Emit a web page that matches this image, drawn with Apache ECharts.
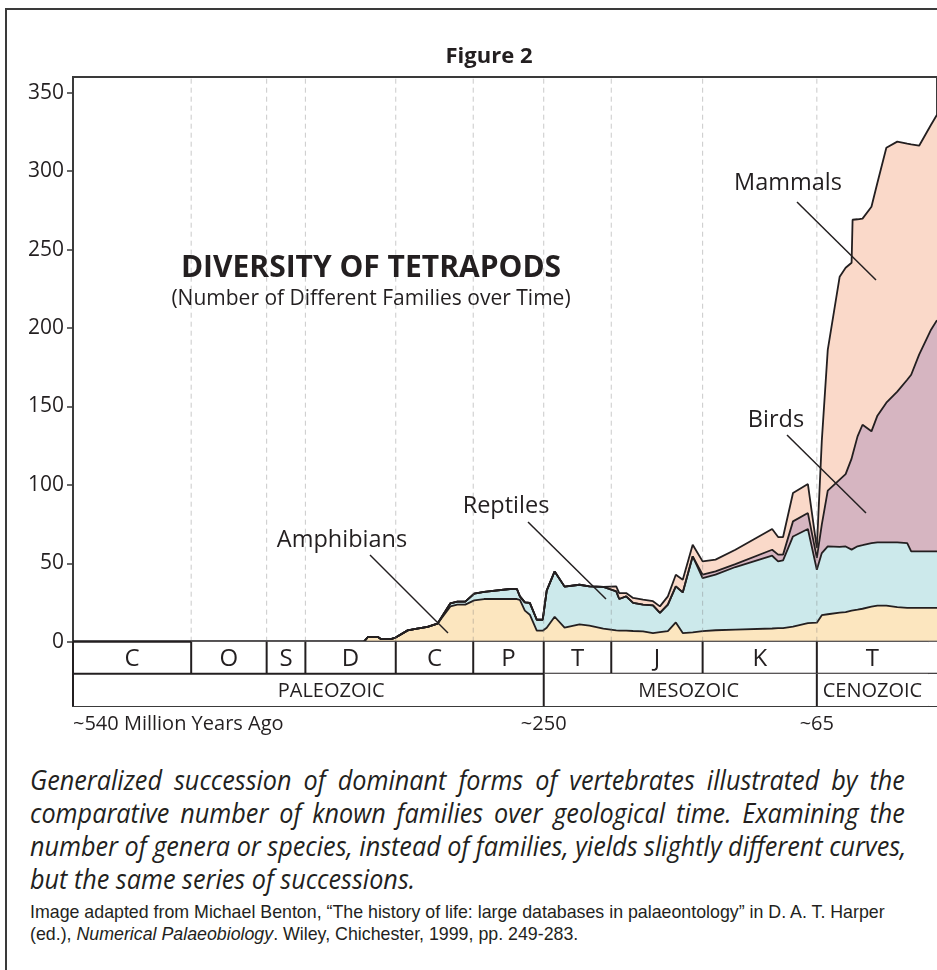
<!DOCTYPE html>
<html>
<head>
<meta charset="utf-8">
<script src="https://cdn.jsdelivr.net/npm/echarts@6.0.0/dist/echarts.min.js"></script>
<style>
  html, body { margin: 0; padding: 0; background: #fff; }
  #page { position: relative; width: 937px; height: 970px; overflow: hidden; }
  #frame { position: absolute; left: 5px; top: 8px; width: 1000px; height: 1000px;
           border-left: 2px solid #3a3a3a; border-top: 2px solid #3a3a3a; pointer-events: none; }
  #chart { position: absolute; left: 0; top: 0; width: 937px; height: 745px; }
  #caption { position: absolute; left: 30px; top: 763px; width: 972px;
             transform: scaleX(0.9); transform-origin: 0 0;
             font-family: "Open Sans", sans-serif; font-style: italic;
             font-size: 28px; line-height: 33px; color: #231f20; }
  #caption div { text-align: justify; text-align-last: justify; white-space: nowrap; }
  #caption div.last { text-align-last: left; }
  #credit { position: absolute; left: 30px; top: 901px; white-space: nowrap;
            font-family: "Liberation Sans", Arial, sans-serif; font-size: 17.8px; line-height: 22px; color: #231f20; }
</style>
</head>
<body>
<div id="page">
  <div id="chart"></div>
  <div id="caption">
    <div>Generalized succession of dominant forms of vertebrates illustrated by the</div>
    <div>comparative number of known families over geological time. Examining the</div>
    <div>number of genera or species, instead of families, yields slightly different curves,</div>
    <div class="last">but the same series of successions.</div>
  </div>
  <div id="credit">Image adapted from Michael Benton, “The history of life: large databases in palaeontology” in D. A. T. Harper<br>(ed.), <i>Numerical Palaeobiology</i>. Wiley, Chichester, 1999, pp. 249-283.</div>
  <div id="frame"></div>
</div>
<script>
  // position along the (non-uniform) geological time strip, 0 = ~540 Ma
  var positions = [0, 29.3, 29.7, 30.7, 31.0, 32.0, 32.4, 33.7, 34.5, 35.7,
    36.7, 38.0, 38.7, 39.5, 40.4, 41.4, 44.0, 44.7, 45.0, 45.5,
    46.0, 46.7, 47.3, 47.7, 48.5, 49.5, 51.0, 52.0, 53.4, 54.7,
    55.0, 55.7, 56.4, 57.4, 58.4, 59.1, 59.9, 60.7, 61.4, 62.4,
    63.4, 64.7, 66.7, 70.4, 71.0, 71.5, 72.5, 74.0, 74.9, 75.4,
    76.0, 77.2, 77.8, 78.4, 78.5, 79.0, 79.5, 80.4, 81.0, 81.9,
    83.0, 84.0, 84.4, 85.2, 86.4, 87.0];

  // number of families per group (layered bottom to top)
  var amphibians = [0, 0, 3.0, 3.0, 1.7, 1.7, 2.4, 7.2, 8.1, 9.4,
    11.5, 22.5, 23.6, 23.6, 26.3, 27.2, 27.2, 27.2, 26.6, 19.8,
    17.2, 7.0, 7.0, 8.9, 15.9, 8.9, 11.0, 10.2, 8.3, 7.2,
    7.1, 7.0, 6.8, 6.6, 5.5, 6.1, 6.7, 12.3, 5.5, 5.9,
    6.7, 7.3, 7.7, 8.4, 8.6, 8.7, 9.6, 11.8, 12.1, 16.9,
    17.5, 18.5, 18.9, 19.8, 20.0, 20.4, 21.0, 22.3, 23.0, 23.0,
    22.0, 21.5, 21.5, 21.5, 21.5, 21.5];
  var reptiles = [0, 0, 0, 0, 0, 0, 0, 0, 0, 0,
    0, 2.0, 1.9, 1.9, 4.3, 4.5, 6.4, 6.4, 2.3, 5.3,
    7.5, 7.0, 7.0, 23.6, 28.9, 26.2, 25.3, 25.1, 26.6, 24.9,
    20.1, 21.9, 17.9, 17.0, 17.6, 12.2, 16.9, 23.0, 25.9, 48.5,
    33.9, 35.4, 39.9, 46.4, 42.6, 43.1, 57.5, 60.0, 33.8, 39.6,
    43.3, 41.9, 41.8, 38.9, 39.0, 40.4, 40.5, 40.5, 40.3, 40.3,
    41.3, 41.4, 36.1, 36.1, 36.1, 36.1];
  var birds = [0, 0, 0, 0, 0, 0, 0, 0, 0, 0,
    0, 0, 0, 0, 0, 0, 0, 0, 0, 0,
    0, 0, 0, 0, 0, 0, 0, 0, 0, 0,
    0, 0, 0, 0, 0, 0, 0, 0, 0, 0,
    2.1, 2.1, 1.8, 3.8, 4.3, 3.7, 9.6, 10.2, 7.5, 18.1,
    35.5, 42.9, 46.1, 58.0, 60.2, 70.1, 76.8, 71.3, 80.8, 89.1,
    96.1, 104.1, 112.6, 125.4, 141.3, 147.4];
  var mammals = [0, 0, 0, 0, 0, 0, 0, 0, 0, 0,
    0, 0, 0, 0, 0, 0, 0, 0, 0, 0,
    0, 0, 0, 0, 0, 0, 0, 0, 0, 3.2,
    3.8, 2.1, 3.2, 3.2, 2.7, 4.2, 5.3, 7.4, 8.1, 7.4,
    8.5, 7.5, 9.2, 13.2, 11.2, 11.2, 18.1, 18.5, 6.3, 53.4,
    89.7, 129.4, 131.6, 124.9, 149.8, 138.4, 131.4, 143.2, 148.5, 162.5,
    159.4, 150.5, 146.8, 133.2, 130.7, 131.0];

  var periodNames = ['C', 'O', 'S', 'D', 'C', 'P', 'T', 'J', 'K', 'T'];
  var periodEdges = [0, 11.9, 19.5, 23.4, 32.5, 40.3, 47.4, 54.2, 63.4, 74.9, 86.1];
  var eraNames = ['PALEOZOIC', 'MESOZOIC', 'CENOZOIC'];
  var eraEdges = [0, 47.4, 74.9, 86.1];
  var eraLabelAt = [26.0, 62.0, 80.5];
  var timeTicks = [0, 47.4, 74.9];
  var timeLabels = ['~540 Million Years Ago', '~250', '~65'];
  var yTicks = [0, 50, 100, 150, 200, 250, 300, 350];

  var ink = '#231f20';
  var font = '"Open Sans", "Noto Sans", sans-serif';
  var axisEnd = 87;
  var rowMid = -20.5, rowBottom = -41;

  // running totals: each band is drawn from 0 up to its cumulative top,
  // highest band first so the lower ones paint over it
  var layers = [
    { name: 'Amphibians', vals: amphibians, fill: '#fce6bf' },
    { name: 'Reptiles', vals: reptiles, fill: '#cce9eb' },
    { name: 'Birds', vals: birds, fill: '#d6b5c1' },
    { name: 'Mammals', vals: mammals, fill: '#fad9c9' }
  ];
  var running = positions.map(function () { return 0; });
  layers.forEach(function (l) {
    running = running.map(function (s, i) { return s + l.vals[i]; });
    l.top = running.slice();
  });

  function band(l) {
    return {
      name: l.name,
      type: 'line',
      data: positions.map(function (p, i) { return [p, +l.top[i].toFixed(2)]; }),
      symbol: 'none',
      lineStyle: { color: ink, width: 1.8 },
      areaStyle: { color: l.fill, opacity: 1, origin: 0 },
      z: 2
    };
  }

  function renderCells(names, edges, labelAt, yTop, yBottom, size) {
    return function (params, api) {
      var i = params.dataIndex;
      var tl = api.coord([edges[i], yTop]);
      var br = api.coord([edges[i + 1], yBottom]);
      var far = api.coord([axisEnd, yBottom]);
      var lx = labelAt ? api.coord([labelAt[i], yTop])[0] : (tl[0] + br[0]) / 2;
      var children = [
        { type: 'rect', shape: { x: tl[0], y: tl[1], width: br[0] - tl[0], height: br[1] - tl[1] },
          style: { fill: '#fff' } },
        { type: 'line', shape: { x1: tl[0], y1: tl[1], x2: tl[0], y2: br[1] },
          style: { stroke: ink, lineWidth: 2 } },
        { type: 'text', style: { text: names[i], x: lx, y: (tl[1] + br[1]) / 2 + 1,
          align: 'center', verticalAlign: 'middle', font: size + 'px ' + font, fill: ink } }
      ];
      if (i === names.length - 1) {
        children.push({ type: 'rect', shape: { x: br[0], y: tl[1], width: far[0] - br[0], height: br[1] - tl[1] },
          style: { fill: '#fff' } });
      }
      if (i === 0) {
        children.push({ type: 'line', shape: { x1: tl[0], y1: tl[1], x2: far[0], y2: tl[1] },
          style: { stroke: ink, lineWidth: 2 } });
      }
      return { type: 'group', children: children };
    };
  }

  var series = layers.slice().reverse().map(band);
  series.push({
    name: 'boundaries', type: 'custom', z: 3, silent: true,
    data: periodEdges.slice(1, -1).map(function (e) { return [e]; }),
    renderItem: function (params, api) {
      var a = api.coord([api.value(0), 0]);
      var b = api.coord([api.value(0), 360]);
      return { type: 'line', shape: { x1: a[0], y1: a[1], x2: b[0], y2: b[1] },
        style: { stroke: 'rgba(120,120,120,0.4)', lineWidth: 1, lineDash: [5, 4] } };
    }
  });
  series.push({
    name: 'periods', type: 'custom', z: 4, silent: true,
    data: periodNames.map(function (n, i) { return [periodEdges[i], periodEdges[i + 1]]; }),
    renderItem: renderCells(periodNames, periodEdges, null, 0, rowMid, 24)
  });
  series.push({
    name: 'eras', type: 'custom', z: 4, silent: true,
    data: eraNames.map(function (n, i) { return [eraEdges[i], eraEdges[i + 1]]; }),
    renderItem: renderCells(eraNames, eraEdges, eraLabelAt, rowMid, rowBottom, 20)
  });

  var chart = echarts.init(document.getElementById('chart'));
  chart.setOption({
    animation: false,
    backgroundColor: 'transparent',
    grid: { left: 73, top: 77, width: 870, height: 629, show: true,
            borderColor: '#3a3a3a', borderWidth: 2, backgroundColor: 'transparent' },
    xAxis: {
      type: 'value', min: 0, max: axisEnd,
      axisLine: { show: false }, axisTick: { show: false }, splitLine: { show: false },
      axisLabel: {
        customValues: timeTicks, margin: 8, alignMinLabel: 'left',
        fontSize: 20, fontFamily: font, color: ink,
        formatter: function (v) {
          var k = timeTicks.indexOf(v);
          return k >= 0 ? timeLabels[k] : '';
        }
      }
    },
    yAxis: {
      type: 'value', min: rowBottom, max: 360,
      axisLine: { show: true, lineStyle: { color: '#3a3a3a', width: 2 } },
      axisTick: { show: true, length: 6, customValues: yTicks, lineStyle: { color: '#3a3a3a', width: 1.5 } },
      axisLabel: { customValues: yTicks, margin: 9, fontSize: 21, fontFamily: font, color: ink },
      splitLine: { show: false }
    },
    graphic: [
      { type: 'text', x: 489, y: 57, z: 100, style: { text: 'Figure 2', align: 'center', verticalAlign: 'middle',
        font: 'bold 22px ' + font, fill: ink } },
      { type: 'text', x: 371, y: 268, z: 100, style: { text: 'DIVERSITY OF TETRAPODS', align: 'center', verticalAlign: 'middle',
        font: 'bold 30px ' + font, fill: ink } },
      { type: 'text', x: 371, y: 299, z: 100, style: { text: '(Number of Different Families over Time)', align: 'center', verticalAlign: 'middle',
        font: '21px ' + font, fill: ink } },
      { type: 'text', x: 788, y: 183, z: 100, style: { text: 'Mammals', align: 'center', verticalAlign: 'middle', font: '23.5px ' + font, fill: ink } },
      { type: 'line', z: 100, shape: { x1: 797, y1: 202, x2: 876, y2: 280 }, style: { stroke: ink, lineWidth: 1.5 } },
      { type: 'text', x: 776, y: 420, z: 100, style: { text: 'Birds', align: 'center', verticalAlign: 'middle', font: '23.5px ' + font, fill: ink } },
      { type: 'line', z: 100, shape: { x1: 787, y1: 435, x2: 866, y2: 513 }, style: { stroke: ink, lineWidth: 1.5 } },
      { type: 'text', x: 506, y: 506, z: 100, style: { text: 'Reptiles', align: 'center', verticalAlign: 'middle', font: '23.5px ' + font, fill: ink } },
      { type: 'line', z: 100, shape: { x1: 528, y1: 522, x2: 606, y2: 599 }, style: { stroke: ink, lineWidth: 1.5 } },
      { type: 'text', x: 342, y: 540, z: 100, style: { text: 'Amphibians', align: 'center', verticalAlign: 'middle', font: '23.5px ' + font, fill: ink } },
      { type: 'line', z: 100, shape: { x1: 370, y1: 555, x2: 448, y2: 633 }, style: { stroke: ink, lineWidth: 1.5 } }
    ],
    series: series
  });
</script>
</body>
</html>
